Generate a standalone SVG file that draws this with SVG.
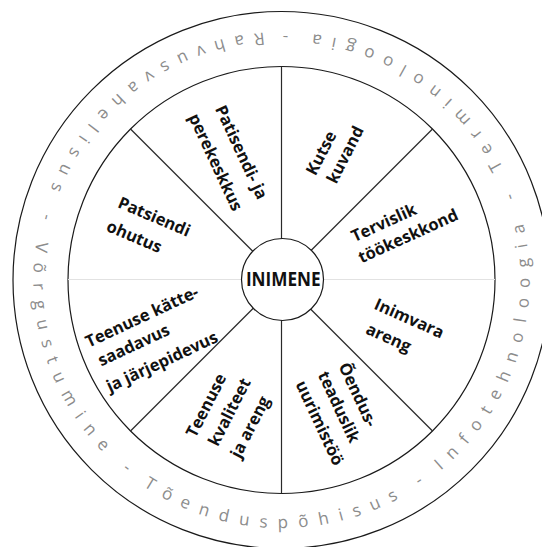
<svg xmlns="http://www.w3.org/2000/svg" xmlns:xlink="http://www.w3.org/1999/xlink" width="542" height="547" viewBox="0 0 542 547">
<style>
.circ{fill:none;stroke:#1a1a1a;stroke-width:1.2}
.spoke{stroke:#2a2a2a;stroke-width:1.2}
.axis{stroke:#e2e2e2;stroke-width:1}
.lbl{font-family:"Open Sans","Noto Sans",sans-serif;font-weight:700;font-size:16.5px;fill:#111;text-anchor:middle}
.ring{font-family:"Open Sans","Noto Sans",sans-serif;font-size:17px;fill:#8c8c8c;letter-spacing:10.6px;text-anchor:middle}
.dash{letter-spacing:0}
</style>
<defs>
<path id="ringPath" d="M 281.5,32 A 248 248 0 1 0 281.5,528 A 248 248 0 1 0 281.5,32 A 248 248 0 1 0 281.5,528 A 248 248 0 1 0 281.5,32"/>
</defs>
<rect width="542" height="547" fill="#fff"/>
<g id="ring">
<circle class="circ" cx="281.5" cy="280" r="268.5"/>
<circle class="circ" cx="281.5" cy="280" r="213.5"/>
<text class="ring"><textPath xlink:href="#ringPath" href="#ringPath" startOffset="162.4">Rahvusvahelisus</textPath></text>
<text class="ring dash"><textPath xlink:href="#ringPath" href="#ringPath" startOffset="324.6">-</textPath></text>
<text class="ring"><textPath xlink:href="#ringPath" href="#ringPath" startOffset="470.6">Võrgustumine</textPath></text>
<text class="ring dash"><textPath xlink:href="#ringPath" href="#ringPath" startOffset="608.1">-</textPath></text>
<text class="ring"><textPath xlink:href="#ringPath" href="#ringPath" startOffset="772.1">Tõenduspõhisus</textPath></text>
<text class="ring dash"><textPath xlink:href="#ringPath" href="#ringPath" startOffset="928">-</textPath></text>
<text class="ring"><textPath xlink:href="#ringPath" href="#ringPath" startOffset="1093.9">Infotehnoloogia</textPath></text>
<text class="ring dash"><textPath xlink:href="#ringPath" href="#ringPath" startOffset="1255.2">-</textPath></text>
<text class="ring"><textPath xlink:href="#ringPath" href="#ringPath" startOffset="1410.9">Terminoloogia</textPath></text>
<text class="ring dash"><textPath xlink:href="#ringPath" href="#ringPath" startOffset="1553.9">-</textPath></text>
</g>
<g id="connectors">
<line class="axis" x1="68" y1="279.5" x2="495" y2="279.5"/>
<line class="spoke" x1="281.5" y1="240" x2="281.5" y2="66.5"/>
<line class="spoke" x1="281.5" y1="320" x2="281.5" y2="493.5"/>
<line class="spoke" x1="254" y1="252.5" x2="130.5" y2="129"/>
<line class="spoke" x1="309" y1="252.5" x2="432.5" y2="129"/>
<line class="spoke" x1="254" y1="307.5" x2="130.5" y2="431"/>
<line class="spoke" x1="309" y1="307.5" x2="432.5" y2="431"/>
</g>
<g id="hub">
<circle cx="282.5" cy="279.5" r="41" fill="#fff" stroke="#1a1a1a" stroke-width="1.2"/>
<text class="lbl" transform="translate(283.3,285.7) scale(0.86,1)" style="font-size:20px">INIMENE</text>
</g>
<g id="seg-patsiendi-ohutus">
<text class="lbl" transform="translate(152,221.9) rotate(23)">Patsiendi</text>
<text class="lbl" transform="translate(132,241.9) rotate(23)">ohutus</text>
</g>
<g id="seg-perekeskkus">
<text class="lbl" transform="translate(236.3,154.6) rotate(65)">Patisendi- ja</text>
<text class="lbl" transform="translate(210.5,164.6) rotate(65)">perekeskkus</text>
</g>
<g id="seg-kutsekuvand">
<text class="lbl" transform="translate(326.2,155.6) rotate(-63)">Kutse</text>
<text class="lbl" transform="translate(350.2,157.3) rotate(-63)">kuvand</text>
</g>
<g id="seg-tookeskkond">
<text class="lbl" transform="translate(386.1,227.9) rotate(-24.5)">Tervislik</text>
<text class="lbl" transform="translate(410.4,241.2) rotate(-24.5)">töökeskkond</text>
</g>
<g id="seg-inimvara">
<text class="lbl" transform="translate(407,323.6) rotate(24)">Inimvara</text>
<text class="lbl" transform="translate(386.3,342.9) rotate(24)">areng</text>
</g>
<g id="seg-uurimistoo">
<text class="lbl" transform="translate(352.8,397.1) rotate(65)">Õendus-</text>
<text class="lbl" transform="translate(333.8,409.4) rotate(65)">teaduslik</text>
<text class="lbl" transform="translate(314.5,425.4) rotate(65)">uurimistöö</text>
</g>
<g id="seg-kvaliteet">
<text class="lbl" transform="translate(211.2,408) rotate(-63)">Teenuse</text>
<text class="lbl" transform="translate(234.5,414.6) rotate(-63)">kvaliteet</text>
<text class="lbl" transform="translate(255.2,429.6) rotate(-63)">ja areng</text>
</g>
<g id="seg-kattesaadavus">
<text class="lbl" transform="translate(144.4,321.8) rotate(-25)">Teenuse kätte-</text>
<text class="lbl" transform="translate(136.1,350.2) rotate(-25)">saadavus</text>
<text class="lbl" transform="translate(164.4,366.8) rotate(-25)">ja järjepidevus</text>
</g>
</svg>
